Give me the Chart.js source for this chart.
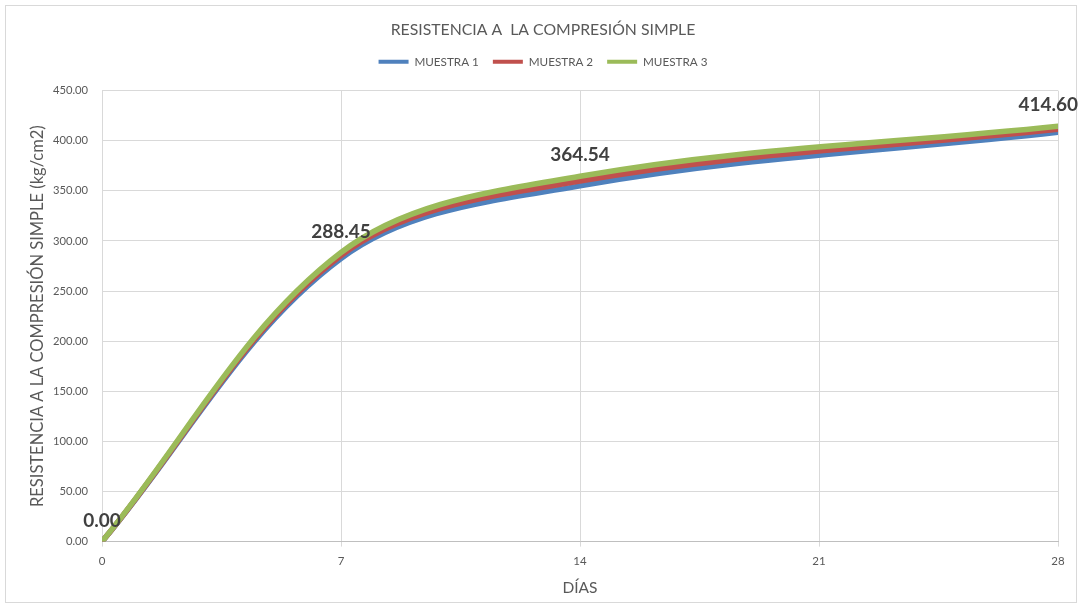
<!DOCTYPE html>
<html>
<head>
<meta charset="utf-8">
<script src="https://cdn.jsdelivr.net/npm/chart.js@4/dist/chart.umd.min.js"></script>
<style>
  html, body { margin: 0; padding: 0; background: #fff; }
  #wrap { width: 1082px; height: 608px; }
</style>
</head>
<body>
<div id="wrap"><canvas id="resistenciaChart" width="1082" height="608"></canvas></div>
<script>
const dias = [0, 7, 14, 28];
const muestra1 = [0, 282.5, 355.0, 408.5];
const muestra2 = [0, 285.5, 359.8, 411.4];
const muestra3 = [0, 288.45, 364.54, 414.60];
const ticksY = { min: 0, max: 450, step: 50 };
const ticksX = { min: 0, max: 28, step: 7 };

const FUENTE = 'Lato, "Open Sans", sans-serif';
const GRIS = '#595959';

const puntos = serie => serie.map((v, i) => ({ x: dias[i], y: v }));

// marco exterior del gráfico y espacio extra bajo la leyenda
const marco = {
    id: 'marco',
    afterInit(chart) {
        const leyenda = chart.legend;
        const fitOriginal = leyenda.fit;
        leyenda.fit = function () {
            fitOriginal.call(this);
            this.height += 13;
        };
    },
    beforeDraw(chart) {
        const c = chart.ctx;
        c.save();
        c.fillStyle = '#fff';
        c.fillRect(0, 0, chart.width, chart.height);
        c.strokeStyle = '#d9d9d9';
        c.lineWidth = 1;
        c.strokeRect(5.5, 5.5, chart.width - 11, chart.height - 11);
        c.restore();
    }
};

// etiquetas de valor sobre la serie 3
const etiquetas = {
    id: 'etiquetas',
    afterDatasetsDraw(chart) {
        const meta = chart.getDatasetMeta(2);
        const c = chart.ctx;
        c.save();
        c.font = 'bold 19px ' + FUENTE;
        c.fillStyle = '#404040';
        c.textAlign = 'center';
        c.textBaseline = 'middle';
        meta.data.forEach((p, i) => {
            const txt = muestra3[i].toFixed(2);
            const w = c.measureText(txt).width;
            let x = p.x;
            if (x + w / 2 > chart.width - 4) x = chart.width - 4 - w / 2;
            c.fillText(txt, x, p.y - 21);
        });
        c.restore();
    }
};

const ctx = document.getElementById('resistenciaChart').getContext('2d');
new Chart(ctx, {
    type: 'line',
    data: {
        datasets: [
            {
                label: 'MUESTRA 1',
                data: puntos(muestra1),
                borderColor: '#4f81bd',
                backgroundColor: '#4f81bd',
                order: 3
            },
            {
                label: 'MUESTRA 2',
                data: puntos(muestra2),
                borderColor: '#c0504d',
                backgroundColor: '#c0504d',
                order: 2
            },
            {
                label: 'MUESTRA 3',
                data: puntos(muestra3),
                borderColor: '#9bbb59',
                backgroundColor: '#9bbb59',
                order: 1
            }
        ]
    },
    options: {
        responsive: false,
        animation: false,
        elements: {
            line: { borderWidth: 5.5, tension: 0.35, borderCapStyle: 'round', borderJoinStyle: 'round', fill: false },
            point: { radius: 0, hoverRadius: 0 }
        },
        layout: { padding: { left: 28, right: 24, top: 0, bottom: 11 } },
        plugins: {
            tooltip: { enabled: false },
            title: {
                display: true,
                text: 'RESISTENCIA A  LA COMPRESIÓN SIMPLE',
                color: GRIS,
                font: { family: FUENTE, size: 15.8, weight: 'normal' },
                padding: { top: 20, bottom: 3 }
            },
            legend: {
                position: 'top',
                labels: {
                    color: GRIS,
                    font: { family: FUENTE, size: 11.7 },
                    boxWidth: 30,
                    boxHeight: 4,
                    padding: 14,
                    generateLabels: chart => chart.data.datasets.map((ds, i) => ({
                        text: ds.label,
                        fillStyle: ds.borderColor,
                        strokeStyle: ds.borderColor,
                        lineWidth: 0,
                        fontColor: GRIS,
                        datasetIndex: i
                    }))
                }
            }
        },
        scales: {
            x: {
                type: 'linear',
                min: ticksX.min,
                max: ticksX.max,
                ticks: { stepSize: ticksX.step, color: GRIS, font: { family: FUENTE, size: 11.5 }, padding: 8 },
                grid: { color: '#d9d9d9', tickLength: 5, drawTicks: true },
                border: { color: '#bfbfbf' },
                title: {
                    display: true,
                    text: 'DÍAS',
                    color: GRIS,
                    font: { family: FUENTE, size: 15.5 },
                    padding: { top: 2, bottom: 0 }
                }
            },
            y: {
                min: ticksY.min,
                max: ticksY.max,
                ticks: {
                    stepSize: ticksY.step,
                    color: GRIS,
                    font: { family: FUENTE, size: 11.2 },
                    padding: 14,
                    callback: v => Number(v).toFixed(2)
                },
                grid: { color: '#d9d9d9', drawTicks: false },
                border: { display: false },
                title: {
                    display: true,
                    text: 'RESISTENCIA A LA COMPRESIÓN SIMPLE (kg/cm2)',
                    color: GRIS,
                    font: { family: FUENTE, size: 16.5 },
                    padding: { top: 0, bottom: 6 }
                },
                afterFit: s => { s.width = 74; }
            }
        }
    },
    plugins: [marco, etiquetas]
});
</script>
</body>
</html>
